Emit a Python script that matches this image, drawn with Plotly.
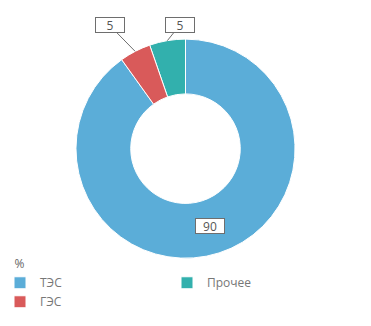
import math
import plotly.graph_objects as go

# Data (legend order: ТЭС, Прочее, ГЭС)
labels = ["ТЭС", "Прочее", "ГЭС"]
values = [90.1, 5.3, 4.6]
colors = ["#5badd8", "#32b0ad", "#d95a5a"]
legend_title = "%"

W, H = 371, 326
cx_frac, cy_frac = 0.5, 0.544
dom_h = 0.672
rot = 0

fig = go.Figure()
fig.add_trace(go.Pie(
    labels=labels, values=values, sort=False, direction="counterclockwise",
    rotation=rot, hole=0.5,
    marker=dict(colors=colors, line=dict(color="white", width=1)),
    textinfo="none", hoverinfo="label+value",
    domain=dict(x=[0, 1], y=[cy_frac - dom_h / 2, cy_frac + dom_h / 2]),
))

# label annotations placed from slice angles (plotly ccw convention)
R = dom_h * H / 2
cx, cy = cx_frac * W, (1 - cy_frac) * H
total = sum(values)
angs = [360 * v / total for v in values]
mids = []
cur = rot + angs[0]
for a in angs:
    mids.append(cur - a / 2)
    cur -= a

offsets = {"ТЭС": None, "Прочее": (12.5, -15.5), "ГЭС": (-25.5, -26)}
box = dict(bgcolor="white", bordercolor="#6e6e6e", borderwidth=1,
           width=26, height=12, borderpad=1,
           font=dict(family="Open Sans", size=12, color="#555"))
for lab, v, m in zip(labels, values, mids):
    a = math.radians(m)
    if offsets[lab] is None:
        r = 0.82 * R
        px, py = cx + r * math.sin(a), cy - r * math.cos(a)
        fig.add_annotation(x=(px - 3) / W, y=1 - py / H, xref="paper", yref="paper",
                           text=f"{v:.0f}", showarrow=False, **box)
    else:
        px, py = cx + R * math.sin(a), cy - R * math.cos(a)
        ax, ay = offsets[lab]
        fig.add_annotation(x=px / W, y=1 - py / H, xref="paper", yref="paper",
                           text=f"{v:.0f}", showarrow=True, arrowhead=0,
                           arrowwidth=1, arrowcolor="#6e6e6e", ax=ax, ay=ay, **box)

fig.update_layout(
    width=W, height=H, margin=dict(l=0, r=0, t=0, b=0),
    paper_bgcolor="white", plot_bgcolor="white",
    showlegend=True,
    legend=dict(orientation="h", x=0.0, xanchor="left", y=0.225, yanchor="top",
                entrywidth=122, entrywidthmode="pixels",
                bgcolor="rgba(0,0,0,0)",
                title=dict(text="&nbsp;&nbsp;&nbsp;&nbsp;" + legend_title, side="top",
                           font=dict(family="Open Sans", size=12, color="#666")),
                font=dict(family="Open Sans", size=12, color="#777"),
                itemwidth=30),
)

fig.write_html("out.html")
